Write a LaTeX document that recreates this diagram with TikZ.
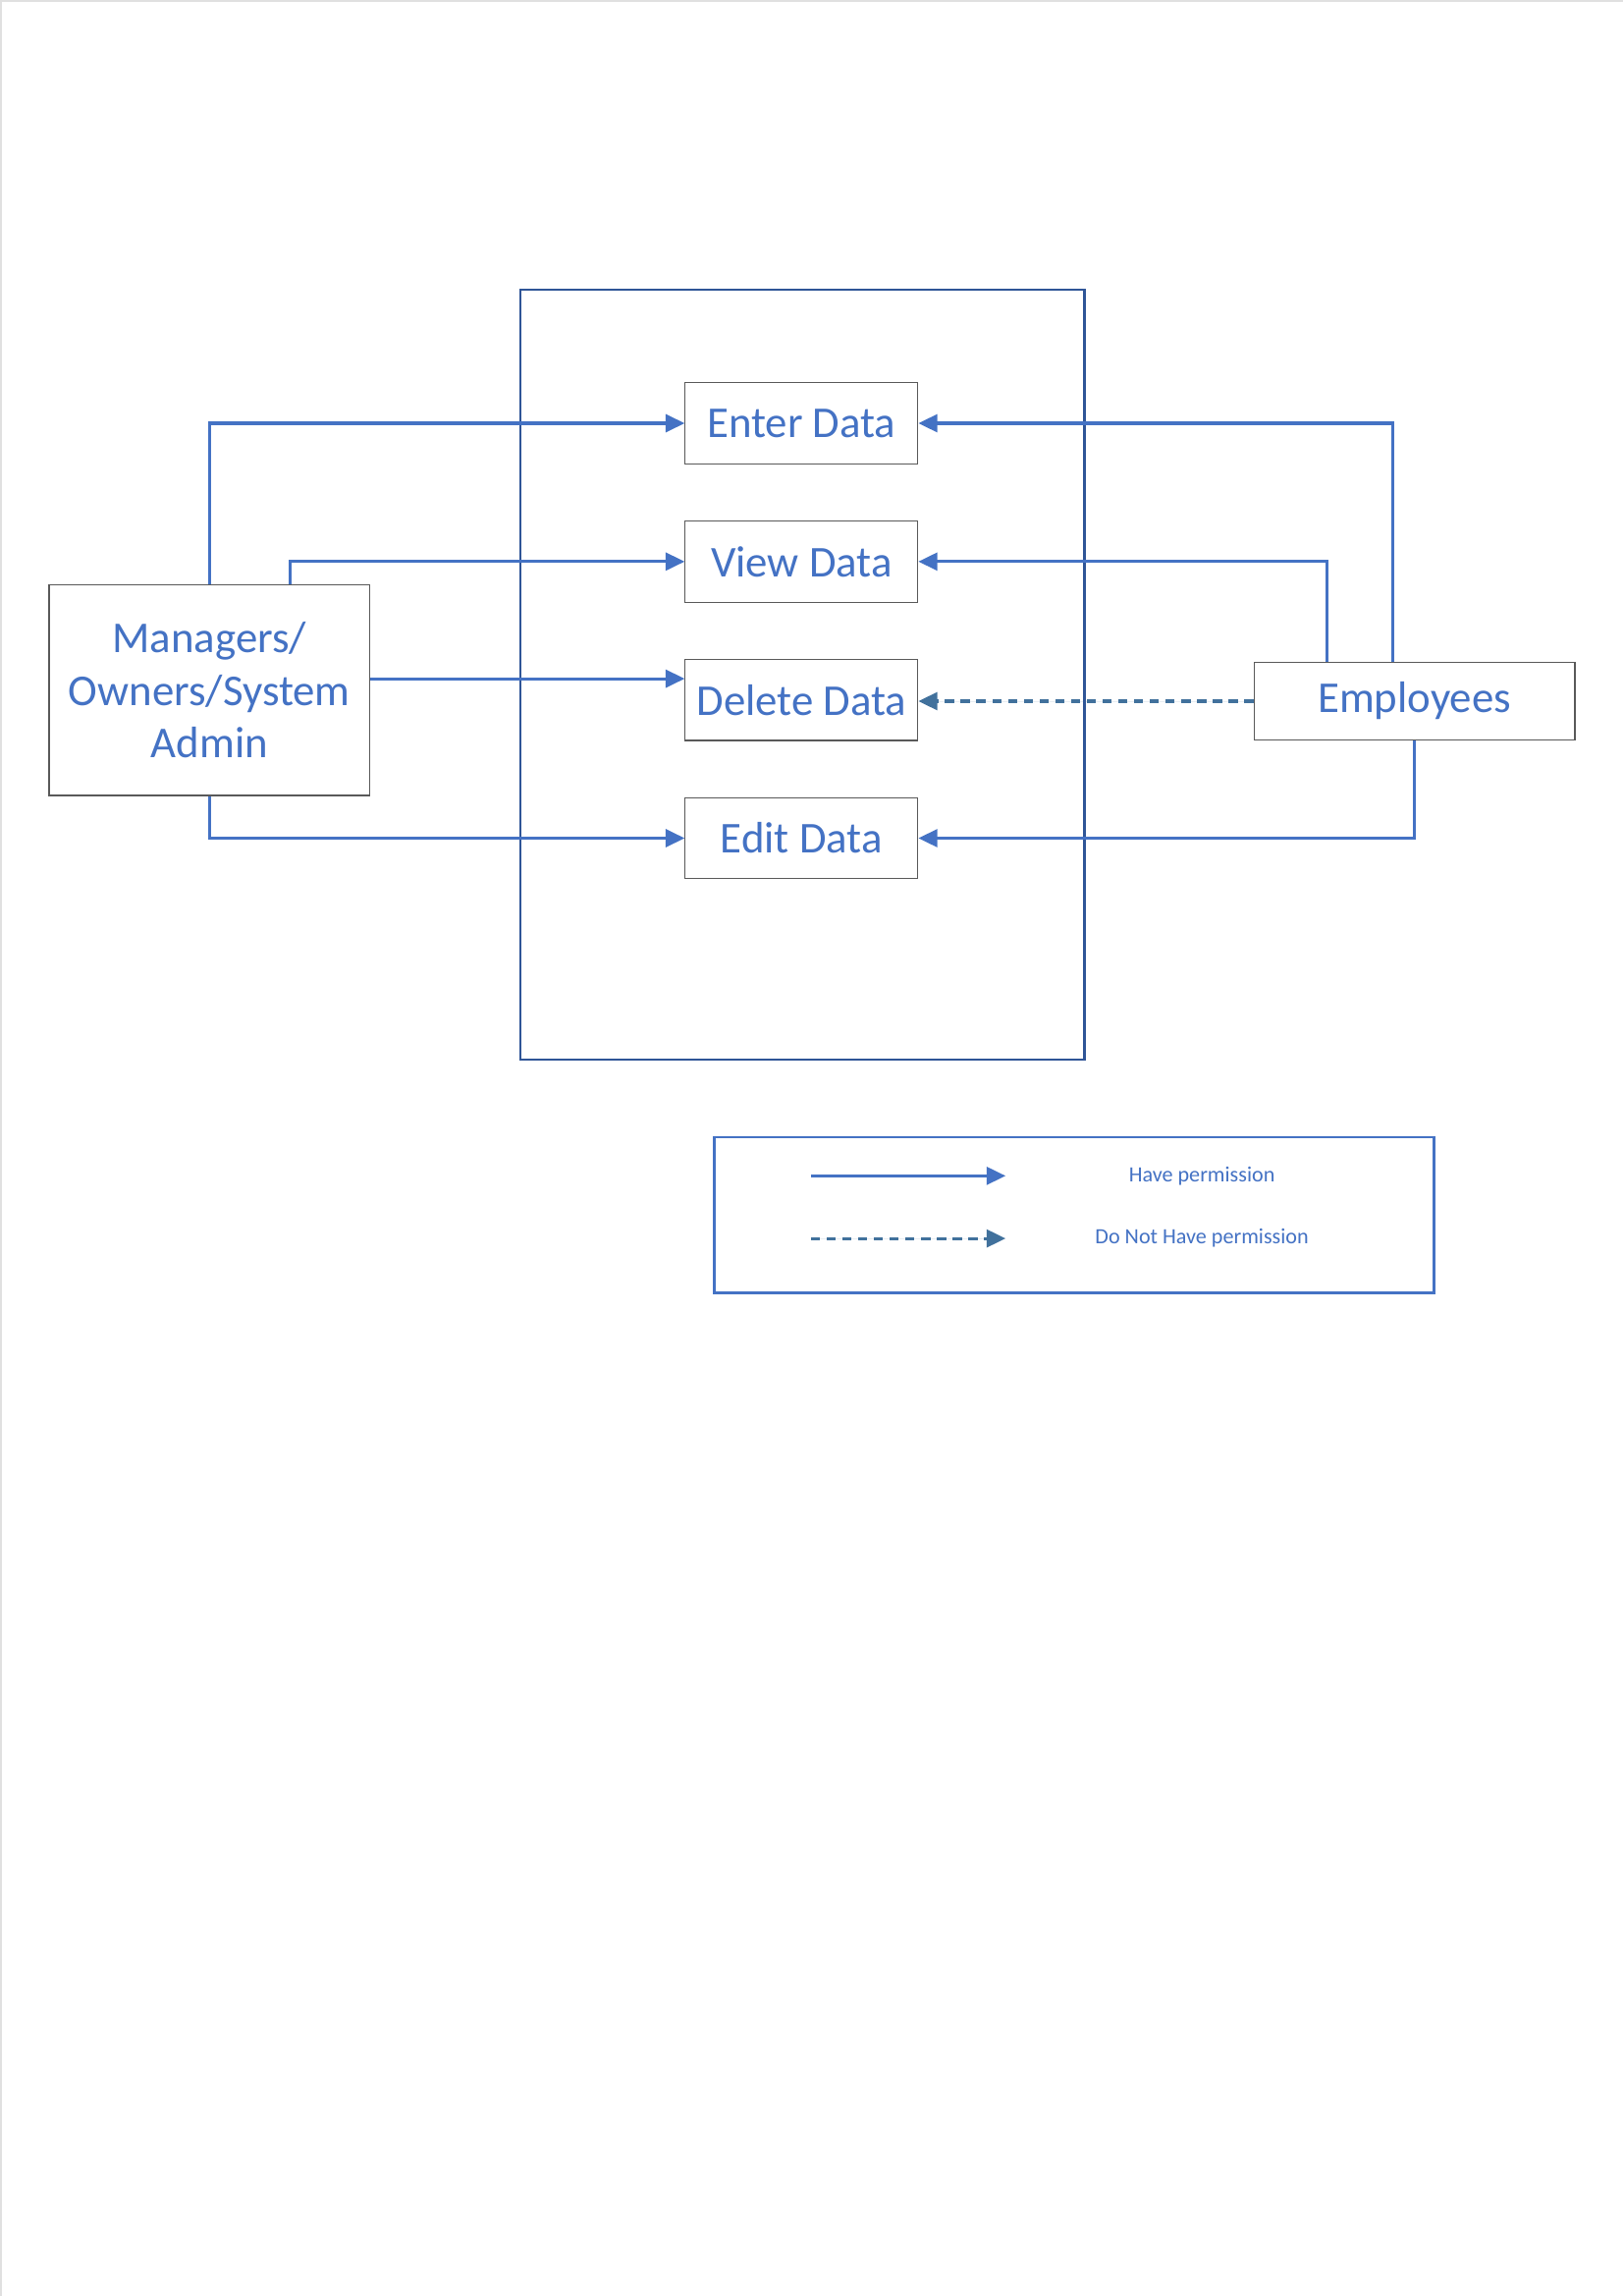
\documentclass[tikz,border=0pt]{standalone}
\usepackage{fontspec}
\setmainfont{Carlito}
\usepackage{tikz}
\usetikzlibrary{arrows.meta,positioning}

\definecolor{txtblue}{HTML}{4472C4}
\definecolor{frameblue}{HTML}{2F5597}
\definecolor{dashblue}{HTML}{41719C}

\begin{document}
\begin{tikzpicture}[
        databox/.style={draw=black!65, line width=0.4pt, minimum width=3.01cm, minimum height=1.05cm, inner sep=0pt, text=txtblue, font=\fontsize{16.2}{19.2}\selectfont},
        userbox/.style={draw=black!65, line width=0.4pt, minimum width=4.15cm, inner sep=0pt, align=center, text=txtblue, font=\fontsize{16.2}{19.2}\selectfont},
        perm/.style={-{Triangle[length=7pt,width=6.5pt]}, draw=txtblue, line width=1.1pt},
        noperm/.style={perm, draw=dashblue, fill=dashblue, dash pattern=on 3.4pt off 2.4pt},
        legtext/.style={text=txtblue, font=\fontsize{8}{10}\selectfont}
    ]
        \useasboundingbox (0, 0) rectangle (21, -29.7);
        \fill[white] (0, 0) rectangle (21, -29.7);
        \draw[black!12, line width=0.6pt] (0.01, -29.7) -- (0.01, -0.01) -- (21, -0.01);

        % system boundary
        \draw[frameblue, line width=0.8pt] (6.73, -3.75) rectangle (14.03, -13.71);

        \node[databox] (enter) at (10.37, -5.475) {Enter Data};
        \node[databox, below=0.725cm of enter] (view) {View Data};
        \node[databox, below=0.725cm of view] (delete) {Delete Data};
        \node[databox, below=0.725cm of delete] (edit) {Edit Data};

        \node[userbox, minimum height=2.73cm] (managers) at (2.71, -8.925) {Managers/\\Owners/System\\Admin};
        \node[userbox, minimum height=1.0cm] (employees) at (18.30, -9.07) {Employees};

        % managers
        \draw[perm] (managers.north) |- (enter.west);
        \draw[perm] ([xshift=1.04cm]managers.north) |- (view.west);
        \draw[perm] ([yshift=0.146cm]managers.east) -- ([yshift=0.146cm]managers.east -| delete.west);
        \draw[perm] (managers.south) |- (edit.west);

        % employees
        \draw[perm] ([xshift=-0.286cm]employees.north) |- (enter.east);
        \draw[perm] ([xshift=-1.137cm]employees.north) |- (view.east);
        \draw[noperm] (employees.west) -- (employees.west -| delete.east);
        \draw[perm] (employees.south) |- (edit.east);

        % legend
        \draw[txtblue, line width=1pt] (9.24, -14.71) rectangle (18.55, -16.72);
        \coordinate (haveA) at (10.49, -15.21);
        \coordinate (haveB) at (13.01, -15.21);
        \coordinate (notA) at (10.49, -16.02);
        \coordinate (notB) at (13.01, -16.02);
        \draw[perm] (haveA) -- (haveB);
        \draw[noperm] (notA) -- (notB);
        \node[legtext] (have) at (15.55, -15.21) {Have permission};
        \node[legtext] (nothave) at (15.55, -16.02) {Do Not Have permission};
\end{tikzpicture}
\end{document}
